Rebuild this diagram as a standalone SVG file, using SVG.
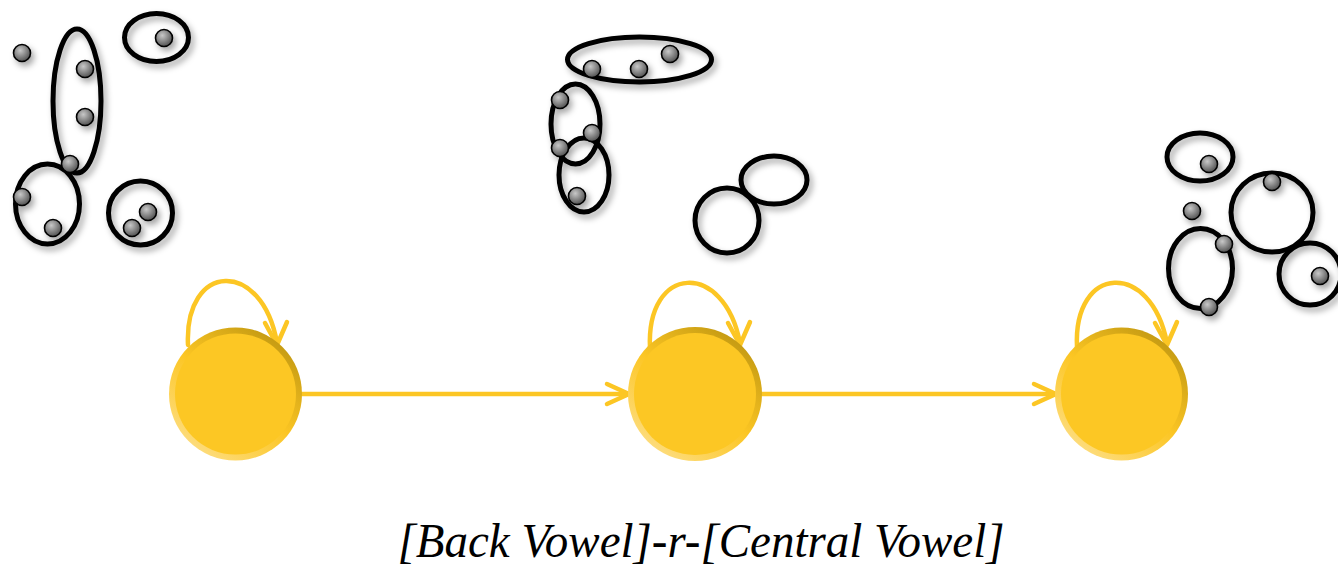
<svg xmlns="http://www.w3.org/2000/svg" width="1338" height="569" viewBox="0 0 1338 569">
<style>
.set{fill:none;stroke:#000;stroke-width:5}
.dot{fill:url(#dotg);stroke:#000;stroke-width:1.6}
.edge{fill:none;stroke:#FCC624;stroke-width:4.5;stroke-linecap:round;stroke-linejoin:round}
.ring{fill:url(#ringg)}
.core{fill:#FCC724}
.lbl{font-family:"Liberation Serif","Times New Roman",Times,serif;font-style:italic;font-size:48px;fill:#000}
</style>
<defs>
<radialGradient id="dotg" cx="0.4" cy="0.35" r="0.7">
<stop offset="0" stop-color="#c8c8c8"/>
<stop offset="1" stop-color="#4a4a4a"/>
</radialGradient>
<linearGradient id="ringg" x1="0.85" y1="0.1" x2="0.2" y2="0.95">
<stop offset="0" stop-color="#C49A12"/>
<stop offset="0.5" stop-color="#FCC624"/>
<stop offset="1" stop-color="#FDDD80"/>
</linearGradient>
<filter id="sh" x="-50%" y="-50%" width="200%" height="200%">
<feDropShadow dx="3" dy="4" stdDeviation="3" flood-color="#000" flood-opacity="0.35"/>
</filter>
</defs>

<g id="sets" filter="url(#sh)">
<g id="set-left">
<ellipse class="set" cx="77" cy="101" rx="24" ry="72"/>
<ellipse class="set" cx="156.5" cy="37.5" rx="32" ry="24"/>
<ellipse class="set" cx="47.5" cy="204" rx="32" ry="40"/>
<ellipse class="set" cx="140.5" cy="213" rx="32" ry="32"/>
<circle class="dot" cx="22" cy="53" r="8.5"/>
<circle class="dot" cx="85" cy="69" r="8.5"/>
<circle class="dot" cx="85" cy="117" r="8.5"/>
<circle class="dot" cx="70" cy="164" r="8.5"/>
<circle class="dot" cx="164" cy="38" r="8.5"/>
<circle class="dot" cx="22" cy="197" r="8.5"/>
<circle class="dot" cx="53" cy="228" r="8.5"/>
<circle class="dot" cx="148" cy="212" r="8.5"/>
<circle class="dot" cx="132" cy="228" r="8.5"/>
</g>
<g id="set-middle">
<ellipse class="set" cx="639.5" cy="59.5" rx="72" ry="22.5"/>
<ellipse class="set" cx="575.5" cy="124" rx="24.5" ry="40"/>
<ellipse class="set" cx="584" cy="175" rx="25" ry="37"/>
<ellipse class="set" cx="727" cy="220.5" rx="32" ry="32.5"/>
<ellipse class="set" cx="774" cy="180" rx="33" ry="24"/>
<circle class="dot" cx="592" cy="69" r="8.5"/>
<circle class="dot" cx="639" cy="69" r="8.5"/>
<circle class="dot" cx="670" cy="54" r="8.5"/>
<circle class="dot" cx="560" cy="100" r="8.5"/>
<circle class="dot" cx="592" cy="133" r="8.5"/>
<circle class="dot" cx="560" cy="148" r="8.5"/>
<circle class="dot" cx="577" cy="196" r="8.5"/>
</g>
<g id="set-right">
<ellipse class="set" cx="1200" cy="157" rx="33" ry="24"/>
<ellipse class="set" cx="1272" cy="212.5" rx="41" ry="39.5"/>
<ellipse class="set" cx="1200.5" cy="268.5" rx="32" ry="40"/>
<ellipse class="set" cx="1310" cy="274" rx="31" ry="31"/>
<circle class="dot" cx="1209" cy="164" r="8.5"/>
<circle class="dot" cx="1272" cy="182" r="8.5"/>
<circle class="dot" cx="1192" cy="211" r="8.5"/>
<circle class="dot" cx="1224" cy="244" r="8.5"/>
<circle class="dot" cx="1209" cy="307" r="8.5"/>
<circle class="dot" cx="1320" cy="276" r="8.5"/>
</g>
</g>

<g id="connectors">
<path class="edge" d="M188,345 C184,262 262,258 277,343"/>
<path class="edge" d="M265,323 L277,345 L287,322"/>
<path class="edge" d="M650,348 C646,264 724,260 740,343"/>
<path class="edge" d="M728,323 L740,345 L750,322"/>
<path class="edge" d="M1077,347 C1073,264 1151,260 1167,343"/>
<path class="edge" d="M1155,323 L1167,345 L1177,322"/>
<path class="edge" d="M302,394 L628,394"/>
<path class="edge" d="M607,384 L629,394 L607,404"/>
<path class="edge" d="M762,394 L1055,394"/>
<path class="edge" d="M1034,384 L1056,394 L1034,404"/>
</g>

<g id="node1">
<circle class="ring" cx="235.5" cy="394" r="66.5"/>
<circle class="core" cx="235.5" cy="394" r="60.5"/>
</g>
<g id="node2">
<circle class="ring" cx="695" cy="394" r="67"/>
<circle class="core" cx="695" cy="394" r="61"/>
</g>
<g id="node3">
<circle class="ring" cx="1121.5" cy="394" r="66.5"/>
<circle class="core" cx="1121.5" cy="394" r="60.5"/>
</g>

<text class="lbl" x="701" y="557" text-anchor="middle" textLength="607" lengthAdjust="spacingAndGlyphs">[Back Vowel]-r-[Central Vowel]</text>
</svg>
